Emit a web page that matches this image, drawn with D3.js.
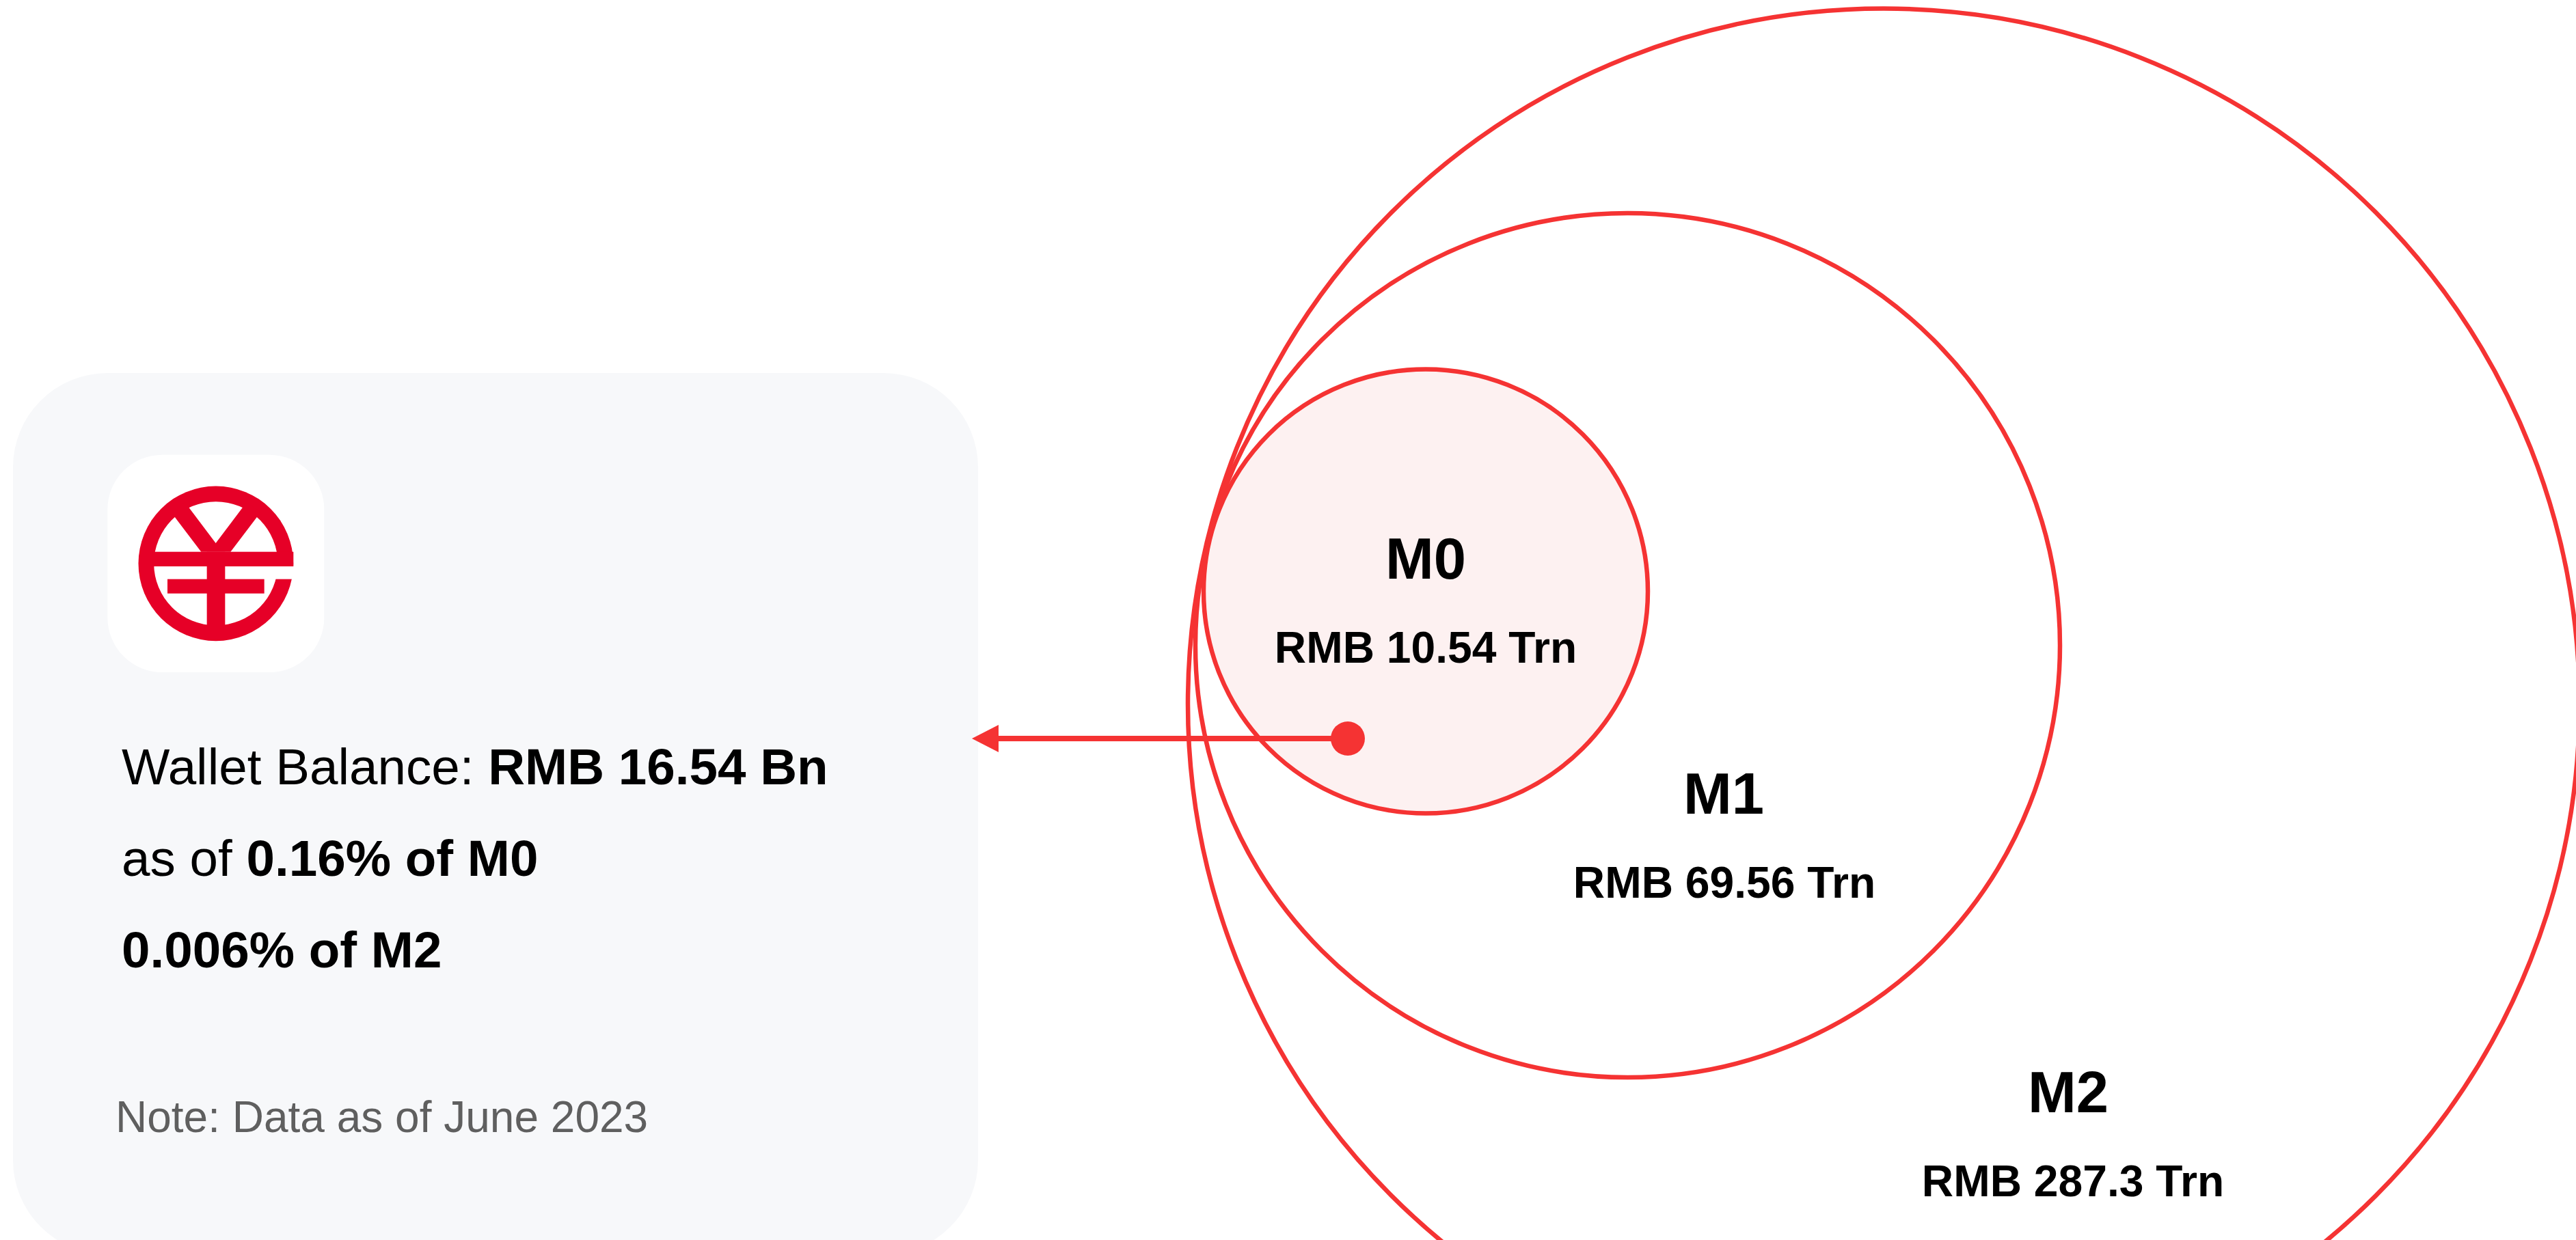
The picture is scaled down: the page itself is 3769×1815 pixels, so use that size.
<!DOCTYPE html>
<html>
<head>
<meta charset="utf-8">
<script src="https://cdn.jsdelivr.net/npm/d3@7"></script>
<style>
html,body{margin:0;padding:0;background:#fff;overflow:hidden}
svg{display:block}
text{font-family:"Liberation Sans",Arial,sans-serif}
</style>
</head>
<body>
<script>
// ---- data ----
const aggregates = ["M2", "M1", "M0"];
const aggregateValues = [287.3, 69.56, 10.54];
const aggregateLabels = ["RMB 287.3 Trn", "RMB 69.56 Trn", "RMB 10.54 Trn"];
const walletLines = [
  [["Wallet Balance: ", false], ["RMB 16.54 Bn", true]],
  [["as of ", false], ["0.16% of M0", true]],
  [["0.006% of M2", true]]
];
const noteText = "Note: Data as of June 2023";

// ---- layout ----
const W = 3769, H = 1815, RED = "#f53333";
const centers = {M2: [2756, 1030.5], M1: [2381.5, 944.5], M0: [2086, 865.5]};
const labelPos = {M2: [3026, 1628, 1751, 3033], M1: [2522, 1191, 1314, 2523], M0: [2086, 847, 970, 2086]};
const walletPoint = [1972, 1081];
const r = d3.scaleLinear()
  .domain([10.54, 69.56, 287.3])
  .range([325, 632.5, 1018]);

const svg = d3.select("body").append("svg").attr("width", W).attr("height", H).attr("viewBox", `0 0 ${W} ${H}`);
svg.append("rect").attr("width", W).attr("height", H).attr("fill", "#fff");

// panel
svg.append("rect").attr("x", 19).attr("y", 546).attr("width", 1412).attr("height", 1290)
  .attr("rx", 138).attr("ry", 138).attr("fill", "#f7f8fa");

// logo
const logo = svg.append("g").attr("transform", "translate(130,630) scale(0.33333)");
logo.append("rect").attr("x", 82).attr("y", 107).attr("width", 951).attr("height", 955).attr("rx", 240).attr("fill", "#fff");
const LOGO = "#e60027";
logo.append("circle").attr("cx", 557.5).attr("cy", 584.5).attr("r", 340).attr("fill", LOGO);
logo.append("circle").attr("cx", 557.5).attr("cy", 584.5).attr("r", 272).attr("fill", "#fff");
logo.append("rect").attr("x", 815).attr("y", 597).attr("width", 90).attr("height", 56).attr("fill", "#fff");
logo.append("rect").attr("x", 280).attr("y", 533).attr("width", 618).attr("height", 64).attr("fill", LOGO);
logo.append("rect").attr("x", 518).attr("y", 533).attr("width", 80).attr("height", 340).attr("fill", LOGO);
logo.append("rect").attr("x", 345).attr("y", 653).attr("width", 425).attr("height", 63).attr("fill", LOGO);
logo.append("path").attr("fill", LOGO).attr("d", d3.line()([[360,358],[493,533],[622,533],[755,358],[692,316],[557,495],[422,316]]) + "Z");

// panel text
const lineY = [1148, 1282, 1416];
walletLines.forEach((parts, i) => {
  const t = svg.append("text").attr("x", 178).attr("y", lineY[i]).attr("font-size", 74.6).attr("fill", "#000");
  parts.forEach(p => t.append("tspan").attr("font-weight", p[1] ? 700 : 400).attr("xml:space", "preserve").text(p[0]));
});
svg.append("text").attr("x", 169).attr("y", 1657).attr("font-size", 64).attr("fill", "#5f5f5f").text(noteText);

// circles
const data = aggregates.map((name, i) => ({name, value: aggregateValues[i], label: aggregateLabels[i]}));
svg.selectAll("circle.fill").data(data.filter(d => d.name === "M0")).join("circle").attr("class", "fill")
  .attr("cx", d => centers[d.name][0]).attr("cy", d => centers[d.name][1]).attr("r", d => r(d.value))
  .attr("fill", "#fdf1f1");
svg.selectAll("circle.ring").data(data).join("circle").attr("class", "ring")
  .attr("cx", d => centers[d.name][0]).attr("cy", d => centers[d.name][1]).attr("r", d => r(d.value))
  .attr("fill", "none").attr("stroke", RED).attr("stroke-width", 6.5);

// arrow
svg.append("line").attr("x1", 1455).attr("y1", walletPoint[1]).attr("x2", walletPoint[0]).attr("y2", walletPoint[1])
  .attr("stroke", RED).attr("stroke-width", 8);
svg.append("path").attr("fill", RED)
  .attr("d", d3.line()([[1422, walletPoint[1]], [1461, walletPoint[1] - 20], [1461, walletPoint[1] + 20]]) + "Z");
svg.append("circle").attr("cx", walletPoint[0]).attr("cy", walletPoint[1]).attr("r", 25).attr("fill", RED);

// labels
svg.selectAll("text.name").data(data).join("text").attr("class", "name")
  .attr("x", d => labelPos[d.name][0]).attr("y", d => labelPos[d.name][1])
  .attr("text-anchor", "middle").attr("font-size", 85).attr("font-weight", 700).attr("fill", "#000").text(d => d.name);
svg.selectAll("text.val").data(data).join("text").attr("class", "val")
  .attr("x", d => labelPos[d.name][3]).attr("y", d => labelPos[d.name][2])
  .attr("text-anchor", "middle").attr("font-size", 64.2).attr("font-weight", 700).attr("fill", "#000").text(d => d.label);
</script>
</body>
</html>
